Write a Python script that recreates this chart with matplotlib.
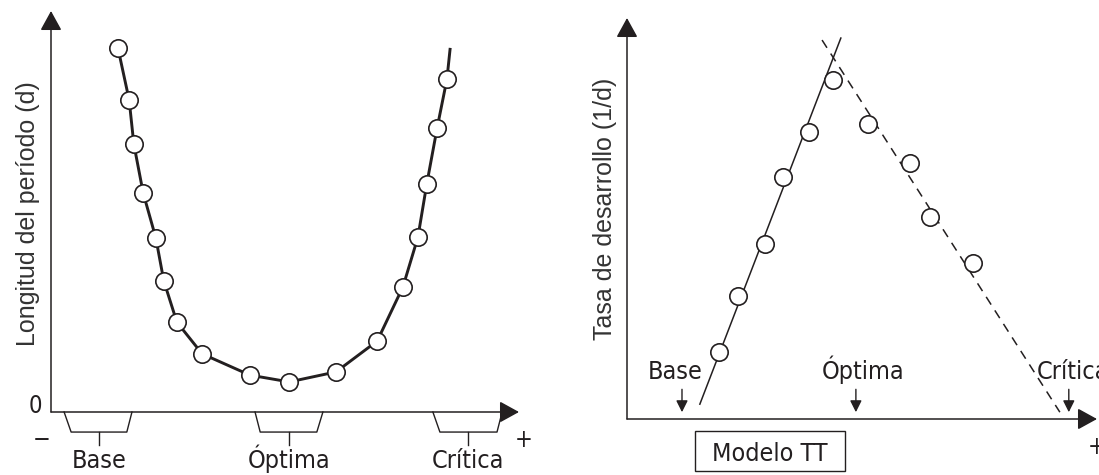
import matplotlib
matplotlib.use("Agg")
import matplotlib.pyplot as plt
from matplotlib.patches import Rectangle

INK = "#231f20"
NARROW = dict(family=["DejaVu Sans"], fontstretch="condensed")
PLAIN = ["Liberation Sans", "DejaVu Sans"]

# ---- left panel: duration of the phase vs temperature (arbitrary units 0-100)
dur_x = [14.3, 16.7, 17.7, 19.7, 22.4, 24.1, 26.9, 32.3, 42.5, 50.9,
         60.9, 69.7, 75.2, 78.4, 80.3, 82.5, 84.6]
dur_y = [90.8, 77.8, 66.8, 54.6, 43.4, 32.7, 22.4, 14.5, 9.2, 7.5,
         10.0, 17.7, 31.2, 43.6, 56.9, 70.8, 83.0]
curve_end = (85.3, 90.8)

# cardinal-temperature zones under the left x axis
zone_names = ["Base", "Óptima", "Crítica"]
zone_top = [(2.8, 17.3), (43.6, 58.1), (81.6, 96.4)]
zone_bot = [(4.3, 16.2), (44.7, 56.8), (83.1, 95.3)]
zone_tick = [10.3, 50.9, 89.1]

# ---- right panel: development rate vs temperature
rise_x = [19.6, 23.6, 29.4, 33.2, 38.7, 43.8]
rise_y = [16.7, 30.7, 43.6, 60.3, 71.6, 84.5]
fall_x = [51.3, 60.2, 64.5, 73.6]
fall_y = [73.6, 63.8, 50.4, 38.9]
rise_line = ([15.5, 45.5], [3.7, 95.0])
fall_line = ([41.5, 92.1], [94.5, 1.7])

card_names = ["Base", "Óptima", "Crítica"]
card_x = [11.7, 48.7, 94.0]
card_label_x = [10.2, 50.2, 87.2]

fig = plt.figure(figsize=(10.99, 4.75), dpi=100)
axL = fig.add_axes([51/1099, 63/475, 468/1099, 401/475])
axR = fig.add_axes([627/1099, 56/475, 470/1099, 401/475])

for ax in (axL, axR):
    ax.set_xlim(0, 100); ax.set_ylim(0, 100)
    ax.axis("off")
    for end in [(1, 0), (0, 1)]:
        ax.annotate("", xy=end, xytext=(0, 0), xycoords="axes fraction",
                    textcoords="axes fraction", annotation_clip=False,
                    arrowprops=dict(arrowstyle="-|>,head_length=0.6,head_width=0.33",
                                    mutation_scale=20, lw=1.1, color=INK,
                                    shrinkA=0, shrinkB=0))

# left curve
axL.plot(dur_x + [curve_end[0]], dur_y + [curve_end[1]], color=INK, lw=2.1,
         solid_capstyle="butt", zorder=2)
axL.plot(dur_x, dur_y, "o", ms=12.5, mfc="white", mec=INK, mew=1.2, zorder=3)

for name, top, bot, t in zip(zone_names, zone_top, zone_bot, zone_tick):
    axL.plot([top[0], bot[0], bot[1], top[1]], [0, -5, -5, 0], color=INK, lw=1.0,
             clip_on=False)
    axL.plot([t, t], [-5, -8.3], color=INK, lw=1.0, clip_on=False)
    axL.text(t, -14.0, name, ha="center", va="baseline", fontsize=18, color=INK,
             clip_on=False, **NARROW)

axL.text(-3.4, 1.5, "0", ha="center", va="center", fontsize=17, color=INK, **NARROW)
axL.text(-2.1, -7.0, "−", ha="center", va="center", fontsize=17, color=INK, **NARROW)
axL.text(100.9, -7.0, "+", ha="center", va="center", fontsize=17, color=INK, **NARROW)
axL.text(-5.0, 49.5, "Longitud del período (d)", rotation=90, ha="center", va="center",
         fontsize=18, family=PLAIN, color="#333333")

# right panel lines and markers
axR.plot(*rise_line, color=INK, lw=1.1, clip_on=False, zorder=2)
axR.plot(*fall_line, color=INK, lw=1.1, ls=(0, (6, 4.5)), clip_on=False, zorder=2)
axR.plot(rise_x + fall_x, rise_y + fall_y, "o", ms=12.5, mfc="white", mec=INK,
         mew=1.2, zorder=3)

for name, x, lx in zip(card_names, card_x, card_label_x):
    axR.annotate("", xy=(x, 1.7), xytext=(x, 7.4), annotation_clip=False,
                 arrowprops=dict(arrowstyle="-|>,head_length=0.5,head_width=0.25",
                                 mutation_scale=14, lw=1.0, color=INK,
                                 shrinkA=0, shrinkB=0))
    axR.text(lx, 10.0, name, ha="left" if name == "Crítica" else "center",
             va="baseline", fontsize=18, color=INK, clip_on=False, **NARROW)

axR.add_patch(Rectangle((14.5, -12.9), 31.9, 9.8, fill=False, ec=INK, lw=1.0,
                        clip_on=False))
axR.text(30.4, -10.5, "Modelo TT", ha="center", va="baseline", fontsize=18,
         color=INK, clip_on=False, **NARROW)
axR.text(100.0, -7.0, "+", ha="center", va="center", fontsize=17, color=INK,
         clip_on=False, **NARROW)
axR.text(-4.6, 52.5, "Tasa de desarrollo (1/d)", rotation=90, ha="center", va="center",
         fontsize=18, family=PLAIN, color="#333333", clip_on=False)

fig.savefig("out.png", dpi=100)
